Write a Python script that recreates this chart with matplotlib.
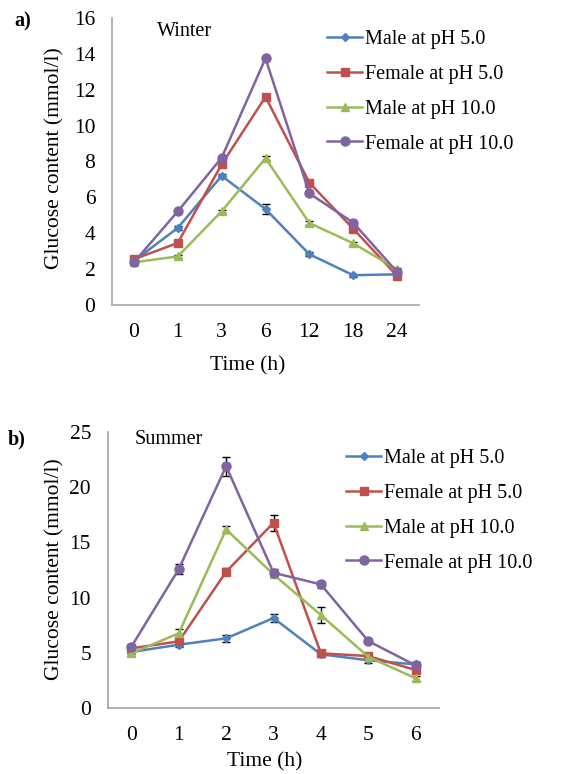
import numpy as np
import matplotlib
matplotlib.use("Agg")
import matplotlib.pyplot as plt

plt.rcParams['font.family'] = ['Liberation Serif', 'DejaVu Serif']

series_names = ["Male at pH 5.0", "Female at pH 5.0", "Male at pH 10.0", "Female at pH 10.0"]
colors = ["#4F81BD", "#C0504D", "#9BBB59", "#8064A2"]
markers = ["D", "s", "^", "o"]
msizes = [4.5, 6, 6, 6.5]

# panel a - winter
winter_time = ["0", "1", "3", "6", "12", "18", "24"]
winter_male5 = [2.45, 4.3, 7.2, 5.35, 2.83, 1.66, 1.71]
winter_female5 = [2.55, 3.46, 7.84, 11.6, 6.82, 4.25, 1.62]
winter_male10 = [2.38, 2.71, 5.22, 8.18, 4.57, 3.44, 1.99]
winter_female10 = [2.38, 5.22, 8.21, 13.75, 6.22, 4.59, 1.84]
winter_err_male5 = [0.1, 0.12, 0.1, 0.3, 0.1, 0.08, 0.08]
winter_err_female5 = [0.1, 0.12, 0.15, 0.15, 0.12, 0.1, 0.1]
winter_err_male10 = [0.08, 0.1, 0.1, 0.12, 0.1, 0.08, 0.1]
winter_err_female10 = [0.1, 0.1, 0.1, 0.1, 0.1, 0.1, 0.1]

# panel b - summer
summer_time = ["0", "1", "2", "3", "4", "5", "6"]
summer_male5 = [5.09, 5.75, 6.32, 8.16, 4.88, 4.34, 3.97]
summer_female5 = [5.42, 6.05, 12.34, 16.77, 4.97, 4.72, 3.46]
summer_male10 = [4.97, 6.78, 16.17, 12.1, 8.43, 4.66, 2.71]
summer_female10 = [5.56, 12.58, 21.88, 12.25, 11.2, 6.08, 3.88]
summer_err_male5 = [0.2, 0.25, 0.3, 0.35, 0.2, 0.25, 0.2]
summer_err_female5 = [0.2, 0.25, 0.3, 0.7, 0.25, 0.2, 0.3]
summer_err_male10 = [0.2, 0.35, 0.35, 0.2, 0.72, 0.2, 0.25]
summer_err_female10 = [0.2, 0.48, 0.85, 0.3, 0.35, 0.2, 0.3]

fig = plt.figure(figsize=(5.69, 7.74), dpi=100)
W, H = 569.0, 774.0


def draw_panel(rect, cats, data, errs, ymax, ystep, season, season_xy, tag, tag_xy,
               legend_xy, xlabel_xy, ylabel_xy):
    ax = fig.add_axes(rect)
    x = np.arange(len(cats))
    for i in range(4):
        ax.errorbar(x, data[i], yerr=errs[i], fmt="none", ecolor="black",
                    elinewidth=1, capsize=3, capthick=1, zorder=2)
        ax.plot(x, data[i], color=colors[i], marker=markers[i], markersize=msizes[i],
                lw=1.8, label=series_names[i], zorder=3)
    ax.set_xlim(-0.5, len(cats) - 0.5)
    ax.set_ylim(0, ymax)
    ax.set_yticks(np.arange(0, ymax + 0.1, ystep))
    ax.set_xticks(x)
    ax.set_xticklabels(cats)
    ax.tick_params(axis="both", length=0, labelsize=15.5)
    ax.tick_params(axis="y", pad=12)
    ax.tick_params(axis="x", pad=13)
    for s in ["top", "right"]:
        ax.spines[s].set_visible(False)
    for s in ["left", "bottom"]:
        ax.spines[s].set_color("#a6a6a6")
        ax.spines[s].set_linewidth(1.2)
    ax.patch.set_alpha(0)
    fig.text(season_xy[0] / W, 1 - season_xy[1] / H, season, fontsize=14.5,
             ha="left", va="center")
    fig.text(tag_xy[0] / W, 1 - tag_xy[1] / H, tag, fontsize=14.5, fontweight="bold",
             ha="center", va="center")
    fig.text(xlabel_xy[0] / W, 1 - xlabel_xy[1] / H, "Time (h)", fontsize=15.5,
             ha="center", va="center")
    fig.text(ylabel_xy[0] / W, 1 - ylabel_xy[1] / H, "Glucose content (mmol/l)",
             fontsize=15.5, ha="center", va="center", rotation=90)
    ax.legend(loc="upper left", bbox_to_anchor=(legend_xy[0] / W, 1 - legend_xy[1] / H),
              bbox_transform=fig.transFigure, frameon=False, fontsize=14.5,
              handlelength=1.75, handletextpad=0.15, labelspacing=0.78,
              borderaxespad=0, borderpad=0)
    return ax


draw_panel([112 / W, 1 - 305 / H, 307 / W, 287 / H], winter_time,
           [winter_male5, winter_female5, winter_male10, winter_female10],
           [winter_err_male5, winter_err_female5, winter_err_male10, winter_err_female10],
           16, 2, "Winter", (157, 32), "a)", (23, 21),
           (327, 30), (248, 366), (55, 158))

draw_panel([107.7 / W, 1 - 708.3 / H, 331.6 / W, 276.6 / H], summer_time,
           [summer_male5, summer_female5, summer_male10, summer_female10],
           [summer_err_male5, summer_err_female5, summer_err_male10, summer_err_female10],
           25, 5, "Summer", (135, 440), "b)", (17, 439),
           (346, 449), (265, 762), (55, 569))

fig.savefig("out.png", dpi=100)
